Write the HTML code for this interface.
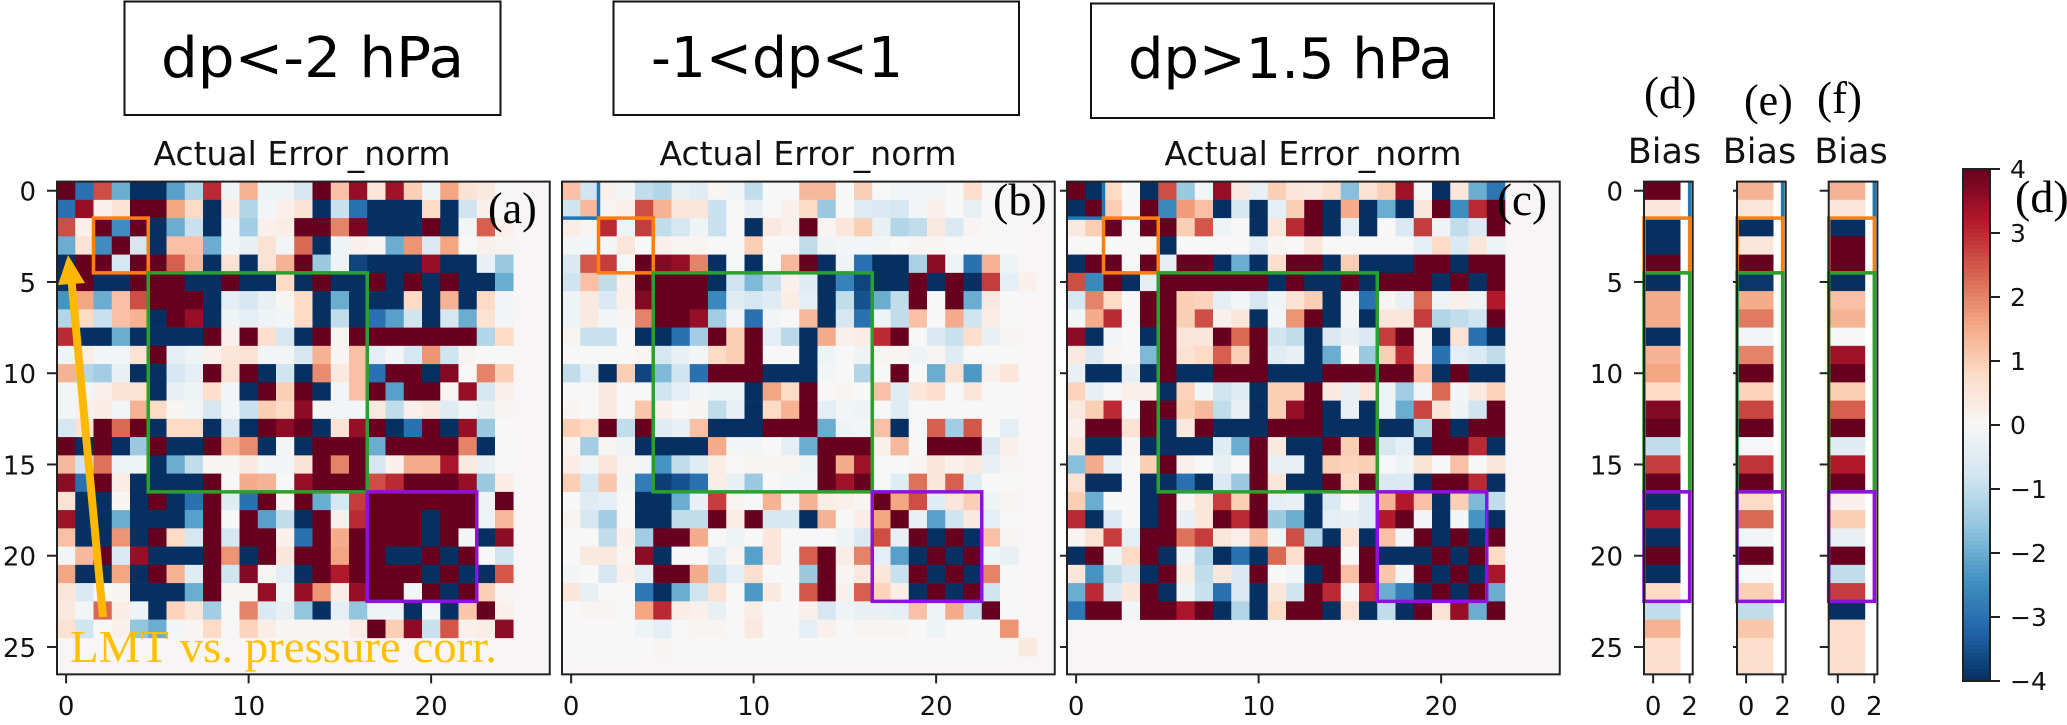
<!DOCTYPE html>
<html lang="en">
<head>
<meta charset="utf-8">
<title>Actual Error_norm heatmaps</title>
<style>
html,body{margin:0;padding:0;background:#fff;width:2067px;height:725px;overflow:hidden}
svg{display:block}
.sans{font-family:"DejaVu Sans","Liberation Sans",sans-serif}
.serif{font-family:"Liberation Serif",serif}
</style>
</head>
<body>
<svg id="chart" xmlns="http://www.w3.org/2000/svg" width="2067" height="725" viewBox="0 0 2067 725">
  <g id="plots"></g>

  <g>
    <rect x="124.5" y="1.5" width="376" height="113.5" fill="#fff" stroke="#111" stroke-width="2"/>
    <text class="sans" x="161" y="77" font-size="56" textLength="303" lengthAdjust="spacingAndGlyphs" fill="#000">dp&lt;-2 hPa</text>
    <rect x="613.5" y="1.5" width="405.5" height="113.5" fill="#fff" stroke="#111" stroke-width="2"/>
    <text class="sans" x="651" y="77" font-size="56" textLength="252" lengthAdjust="spacingAndGlyphs" fill="#000">-1&lt;dp&lt;1</text>
    <rect x="1091" y="3.5" width="403" height="114.5" fill="#fff" stroke="#111" stroke-width="2"/>
    <text class="sans" x="1128" y="78" font-size="56" textLength="325" lengthAdjust="spacingAndGlyphs" fill="#000">dp&gt;1.5 hPa</text>
  </g>

  <g class="sans" fill="#111" text-anchor="middle">
    <text x="302" y="165" font-size="33">Actual Error_norm</text>
    <text x="808" y="165" font-size="33">Actual Error_norm</text>
    <text x="1313" y="165" font-size="33">Actual Error_norm</text>
    <text x="1664.5" y="163" font-size="35">Bias</text>
    <text x="1759.5" y="163" font-size="35">Bias</text>
    <text x="1851" y="163" font-size="35">Bias</text>
  </g>

  <g class="serif" fill="#000">
    <text x="488" y="223" font-size="44">(a)</text>
    <text x="993" y="215" font-size="46">(b)</text>
    <text x="1497" y="215" font-size="45">(c)</text>
    <text x="1644" y="108" font-size="45">(d)</text>
    <text x="1744" y="115" font-size="44">(e)</text>
    <text x="1817" y="113" font-size="45">(f)</text>
    <text x="2015" y="212" font-size="46">(d)</text>
  </g>

  <g>
    <line x1="103" y1="617" x2="71" y2="275" stroke="#ffb800" stroke-width="8"/>
    <polygon points="68,255 85,283 58,285" fill="#ffb800"/>
    <text class="serif" x="70" y="662" font-size="45" textLength="427" lengthAdjust="spacingAndGlyphs" fill="#ffc000">LMT vs. pressure corr.</text>
  </g>
</svg>

<script>
const panelAValues = [
[4,-3,2.6,-2,-4,-4,-2.2,-1.2,3,-.2,1.4,-.2,-.2,-.7,4,1.2,3.5,.5,3.4,1,-.2,1.6,.6,.4,0],
[-3,3.5,.2,.6,4,4,1.6,.8,-4,.3,-1.2,-.1,.2,.6,-4,-.9,-3,-4,-4,-4,.8,-4,-.8,.2,0],
[2.6,.2,4,-2.5,4,-4,-2,-.9,-4,-.1,-1.4,.2,.3,4,4,2,3.8,-4,-4,-4,4,-4,-.1,2.4,.2],
[-2,.6,-2.5,4,-.7,-4,1.2,1.2,-2,-.1,-.3,.6,-.1,2.3,-4,-.2,.2,.1,-2,1.8,-.6,1.6,0,.2,.1],
[-4,4,4,-.7,4,4,2.4,1.3,-4,.6,-4,.6,1.4,4,-1.5,-.2,-3.7,-4,-4,-4,3.5,-4,-4,-.3,-1.5],
[-4,4,-4,-4,4,4,4,-4,-4,4,-4,-4,.8,-4,4,-4,-4,4,-4,4,-4,4,-4,-4,-2],
[-2.4,1.6,-2,1.2,2.6,4,4,4,-4,-.4,-.7,-.3,.1,.8,-4,-2,-4,-4,-4,.8,-4,1.4,-4,.8,-.1],
[-1.2,.8,-.9,1.2,1.4,-4,4,3.5,-4,-.2,-.4,-.2,-.1,.8,-4,-1,-4,-3,-2.2,-.8,-4,-.7,-2,.6,-.1],
[3,-4,-4,-2,-4,-4,-4,-4,4,.2,4,.7,-.7,-4,4,.1,4,4,4,4,4,4,4,-1.2,.8],
[-.2,.3,-.1,-.1,.6,4,-.4,-.2,.2,.5,.6,-.1,-.1,-.7,1.4,.1,1.2,-.4,-.1,-.7,1.8,-.8,.1,0,0],
[1.4,-1.2,-1.4,-.3,-4,-4,-.7,-.4,4,.6,4,-4,-.8,-4,1.9,.4,1.2,-3,4,4,-4,3.7,0,2,1],
[-.1,-.1,.2,.6,.6,-4,-.3,-.2,.7,-.1,-4,4,1,4,-4,-.1,1.2,4,-2.2,4,4,.1,3.5,-.7,.2],
[-.1,.2,.3,-.1,1.4,.8,.1,-.1,-.7,-.1,-.9,1,.8,3.6,-.1,-.1,-.1,.4,-1,.2,.4,-.5,-.1,-.3,.1],
[-.7,.6,4,2.3,4,-4,.8,.8,-4,-.7,-4,4,3.6,4,-4,.6,3.5,4,-4,-3,4,-4,3.5,-1.5,0],
[4,-4,4,-4,-1.5,4,-4,-4,4,1.4,1.9,-4,-.1,-4,4,4,4,-2,4,4,4,4,2,-4,0],
[1.3,-.8,2.2,-.2,-.2,-4,-2,-1,.1,.1,.4,-.1,-.1,.6,4,2,4,-.7,.2,1.5,1.5,3.3,.4,-.3,0],
[3.6,-3,4,.3,-4,-4,-4,-4,4,0,1.5,1.4,0,3.5,4,4,4,2.6,3,4,4,4,3.5,-1.5,.3],
[.6,-4,-4,.1,-4,4,-4,-3,4,-.5,-3,4,.1,4,-2,-.7,2.8,4,4,4,4,4,4,-.2,4],
[3.4,-4,-4,-2,-4,-4,-4,-2.2,4,0,4,-2.2,-1,-4,4,.2,3,4,4,4,-4,4,4,-.2,1.3],
[1.2,-4,-4,1.8,-4,4,.8,-.7,4,-.7,4,4,.2,-3,4,1.5,4,4,4,4,-4,4,-.1,-4,3.6],
[-.1,1.3,4,-.6,3.5,-4,-4,-4,4,1.8,-4,4,.5,4,4,1.6,4,4,-4,-4,4,-4,4,0,-.8],
[1.6,-4,-4,1.6,-4,4,1.4,-.5,4,-.8,3.7,.1,-.4,-4,4,3.2,4,4,4,4,-4,4,-4,-4,2.5],
[.5,-.6,0,.1,-4,-4,-4,-2,4,.1,.1,3.5,-.1,3.5,1.8,.3,3.5,4,4,-.1,4,-4,4,1,.1],
[.4,-.1,2.3,.3,-.2,-4,.9,.5,-1.4,0,2,-.6,-.3,-1.6,-4,-.4,-1.6,-.2,-.2,-4,-.1,-4,1.1,4,.2],
[.6,-.8,0,.2,-1.6,-2,-.1,.1,.8,0,.9,.3,.1,.1,.1,.1,.3,4,1,3.6,-.9,2.5,.2,.3,3.6]
];

const panelBValues = [
[1.2,-.8,.2,-.1,-1,-1.2,-.3,-.5,.1,-.1,-1,0,0,1.3,1.3,0,1,0,-.1,-.1,-.1,0,.7,0,0],
[-.8,1.3,.1,.2,2.6,1.4,.5,.5,-.9,0,-.3,0,.2,.8,-1.5,0,-.5,-.6,-.7,-.1,.2,0,-.3,0,0],
[.3,.1,3,-.2,2.8,-1,-.7,-.2,-.9,0,-4,.4,.2,4,.1,.5,1,-.3,-1.2,-1,.4,-.6,.1,0,0],
[-.1,-.1,-.1,.5,0,.2,.1,.1,0,0,1,0,0,-1,-.2,-.1,-.1,-.1,0,.1,.1,0,0,0,0],
[-.6,2.5,2.8,0,4,3.7,3.5,2,-4,0,-4,0,1.3,4,-4,-.2,-3,-4,-4,-1.3,3.6,-.2,-3,1.4,-.2],
[-.8,1.2,-1,.2,4,4,4,4,-4,-.8,-1.8,-.9,.2,-.5,-4,-2.7,-3.7,-4,-4,4,-4,4,-4,2.8,-.4,.2],
[-.2,.4,-.6,.2,3.7,4,4,4,-2.6,-.5,-.7,-.5,.3,-.4,-4,-1,-3.5,-2,-1,4,0,4,-2,.4,0],
[-.2,.4,-.1,.1,2,4,4,3.5,-1.4,-.1,-3,-.1,0,1.3,-4,-.7,-3,-.2,-1,1.2,0,1.5,-.8,.3,0],
[.1,-.9,-.9,0,-4,-4,-3,-1.4,4,1,4,-.4,-1.1,-4,1.5,.2,.3,3,4,0,-.6,-.9,.7,-.3,.1],
[0,0,0,0,.1,-.7,-.3,-.1,.8,1,4,0,0,-4,-.2,0,-.2,.1,.1,-.2,.1,-.5,0,0,0],
[-1,-.4,-4,1,-3.7,-1.8,-.8,-3,4,4,4,-4,-4,-4,-.1,0,-1.2,0,4,0,-2,.6,-2.3,.2,.5],
[0,0,.4,0,0,-.8,-.4,-.1,-.2,-.2,-4,1.6,.8,4,0,.1,0,1.2,-.5,.5,.7,0,.5,0,0],
[.1,0,.4,0,1.1,.2,0,.1,-1,-.3,-4,.8,1.4,4,-.4,-.1,-.2,0,-.5,0,0,0,0,0,0],
[1,.8,4,-1,4,-.5,-.3,1.2,-4,-4,-4,4,4,4,-2,-.2,-.1,1.2,-4,0,2.4,-1.4,2.5,0,-.4],
[.1,-1.4,.1,-.2,-4,-4,-4,-4,1.5,-.1,-.1,0,-.4,-2,4,4,4,.2,1.3,0,4,4,4,-.6,.2],
[.3,-.1,.5,.1,-.1,-2.4,-1,-.5,.3,0,.1,.1,.1,-.2,4,1.5,3.4,0,0,.1,.5,.2,.4,-.3,.1],
[1,-.7,1.1,-.1,-2.8,-3.8,-3.5,-3,.3,-.3,-1.5,0,-.1,-.1,4,3.4,4,0,-.5,2.2,.5,2.4,-.5,0,0],
[0,-.5,-.4,0,-4,-4,-2,-.3,2.8,.1,0,1.4,.1,1.4,.3,.2,.1,4,1.6,2.6,-.5,.5,1,-.2,.1],
[.1,-.7,-1.4,0,-4,-4,-1,-1,4,.3,4,-.7,-.7,-4,1.4,0,.3,1.6,4,-.3,-2.2,-.8,.4,-.4,0],
[0,0,-1,.2,-1.4,4,4,1.5,0,-.2,0,.5,0,0,0,-.2,-.6,2.6,-.3,4,-4,4,-4,1.2,.1],
[0,.4,.4,.1,3.6,-4,0,0,-.5,.1,-2.2,.5,0,2.4,4,.3,2,-.4,-2.2,-4,4,-4,4,-.2,-.3],
[-.1,0,-.7,.2,-.4,4,4,1.5,-.9,-.4,.7,0,0,-1.5,4,.1,.4,.5,-.9,4,-4,4,-4,2,0],
[.5,-.3,0,0,-2.9,-4,-2,-.8,.6,0,-2.3,.4,0,2.5,4,.2,2.4,.9,.3,-4,4,-4,4,-.8,0],
[0,.1,.1,0,1.6,3,.3,.2,-.3,0,.3,0,0,.2,-.7,-.2,-.3,-.3,-.4,1.2,-.2,1.5,-.9,4,0],
[0,0,0,0,-.2,-.4,0,.1,.1,0,.4,0,0,-.4,.2,0,.1,.1,.1,0,-.2,0,0,0,1.8],
[0,0,0,0,0,.1,0,0,0,0,0,0,0,0,0,0,0,0,0,0,0,0,0,0,0,.4]
];

const panelCValues = [
[4,-4,.8,0,-4,2.6,-1.5,-.1,3.5,.4,-.3,1,.5,.4,.7,-1.7,.6,1,3.4,0,-4,.5,-2,-2.9],
[-4,4,1,0,4,-2.6,1.7,1.2,-4,-.7,-4,-.4,1,4,-4,1.5,-4,-2,-4,.5,4,-2.5,3,4],
[.4,1,4,0,4,4,1,2.5,-.2,0,-4,.5,3,4,-4,-.4,-4,0,-.6,2.8,-.2,-1,-.6,4],
[0,0,0,0,0,-4,0,0,0,0,-.4,.1,0,.5,0,0,0,0,0,-.4,.8,-.6,.5,-.2],
[-4,4,4,0,4,-.4,4,4,-4,-2,-4,.7,4,4,-4,1,-4,-4,-4,4,4,-4,4,4],
[2.6,-2.6,4,-4,-.4,4,4,4,4,4,4,-4,4,-4,-4,4,-4,4,4,4,-4,4,-4,4],
[-.7,2,.8,0,4,4,1,.9,-.4,-.1,-.7,-.2,.6,1,-4,-.1,-3,.1,-.3,2.3,-.2,.2,-.2,3.2],
[-.1,1.5,3,0,4,4,1,2.6,.2,.5,-4,-.1,1.8,4,-4,-.1,-4,.5,.5,2.8,-1.2,-1,-.8,4],
[3.6,-4,-.1,0,-4,4,.5,.5,4,2.3,4,-.8,-1,-4,-.6,-.3,-.6,2.8,4,.1,-4,.6,-3,-4],
[.4,-.6,.1,0,-1.8,4,.6,.8,2.4,1,4,-.5,-.3,-4,-2,0,-1.5,1,3,.1,-3,-.4,-.6,-1],
[-.3,-4,-4,-.3,-4,4,-4,-4,4,4,4,-4,-4,-4,4,4,4,4,4,1.2,-4,4,-4,-4],
[.9,-.3,0,.2,.2,-4,.9,-.1,-.8,-.5,-4,1,1,4,.4,-.3,.5,-.2,-1.4,-.1,2.3,-.1,.4,.9],
[.4,1,3,0,4,4,1,1.3,-1,-.3,-4,1,3.5,4,-4,-.3,-4,-.2,-2,2.7,.6,-.2,-.8,4],
[.2,4,4,.6,4,-4,.4,4,-4,-4,-4,4,4,4,-4,-4,-4,-4,-4,-1.2,4,-4,4,4],
[.5,-4,-4,.1,-4,-4,-4,-4,-.5,-2,4,.4,-4,-4,4,1,4,-.7,-.4,-4,4,4,3,-4],
[-1.7,1.5,-.3,0,1,4,.2,0,-.3,0,4,-.3,-.3,-4,1,.9,1,0,-.2,.6,0,1.2,0,.5],
[.6,-4,-4,0,-4,-4,-3,-4,-.6,-1.5,4,.5,-4,-4,4,.8,4,-.6,-.6,-4,4,4,3,-4],
[1,-2,0,0,-4,4,.1,.5,2.8,1,4,-.4,-.3,-4,-.6,0,-.5,1.4,3.2,1.2,-4,1,-1.8,-1],
[3,-4,-.6,0,-4,4,-.3,.5,4,3,4,-1.5,-2,-4,-.4,-.3,-.5,3.2,4,-.1,-4,-.1,-2.4,-4],
[.1,.6,2.8,-.4,4,4,2.2,2.8,.5,.2,1.3,-.1,2.6,-1.2,-4,.6,-4,1.2,-.1,4,-4,4,-4,4],
[-4,4,-.2,.8,4,-4,-.2,-1.2,-4,-3,-4,2.3,.7,4,4,0,4,-4,-4,-4,4,-4,4,.8],
[.5,-2.4,-1,-.6,-4,4,.3,-1,.5,-.6,4,0,-.1,-4,4,1.2,4,1.1,-.1,4,-4,4,-4,3.3],
[-2,3,-.6,.5,4,-4,-.2,-.9,-3,-.6,-4,.5,-.8,4,3,0,3,-2,-2.8,-4,4,-4,4,-2],
[-2.9,4,4,-.1,4,4,3.3,4,-4,-1.2,-4,.8,4,4,-4,.6,-4,-1,-4,4,.6,3.5,-2,4]
];

const biasDValues = [4,.5,-4,-4,4,-4,1.5,1.5,-4,1.4,1.6,.8,3.7,4,-1,2.8,4,-4,3.3,-4,4,-4,.8,-1,1.4,.7,.7];
const biasEValues = [1.4,.5,-4,.5,4,-3.9,1.5,2.1,-.1,2,4,.9,2.7,4,-.05,2.9,4,.8,2.3,-.1,4,0,1,-1,1.1,.7,.7];
const biasFValues = [1.4,.5,-4,4,4,-4,1.2,1.4,0,3.4,4,1,2.4,4,-.5,3.2,4,.2,1,-.3,4,-1,2.8,-4,.7,.7,.7];

const xTickValues = [0,10,20];
const yTickValues = [0,5,10,15,20,25];
const biasXTickValues = [0,2];
const colorbarTickValues = [4,3,2,1,0,-1,-2,-3,-4];
const regionOrange = [1.5,4.5];
const regionGreen = [4.5,16.5];
const regionPurple = [16.5,22.5];
const regionBlue = [-0.5,1.5];

const rdbuStops = ['#053061','#2166ac','#4393c3','#92c5de','#d1e5f0','#f7f7f7','#fddbc7','#f4a582','#d6604d','#b2182b','#67001f'];
const SVGNS = 'http://www.w3.org/2000/svg';
const CELL = 18.25;
const TOP = 181.6;
const yScale = function (i) { return TOP + (i + 0.5) * CELL; };

function hexToRgb(h) {
  return [parseInt(h.slice(1, 3), 16), parseInt(h.slice(3, 5), 16), parseInt(h.slice(5, 7), 16)];
}
function colorFor(v) {
  const t = Math.max(0, Math.min(1, (v + 4) / 8)) * (rdbuStops.length - 1);
  const i = Math.min(rdbuStops.length - 2, Math.floor(t));
  const a = hexToRgb(rdbuStops[i]);
  const b = hexToRgb(rdbuStops[i + 1]);
  const f = t - i;
  return 'rgb(' + [0, 1, 2].map(function (k) { return Math.round(a[k] + (b[k] - a[k]) * f); }).join(',') + ')';
}
function make(tag, attrs, parent) {
  const el = document.createElementNS(SVGNS, tag);
  Object.keys(attrs).forEach(function (k) { el.setAttribute(k, attrs[k]); });
  parent.appendChild(el);
  return el;
}
function addTick(parent, x1, y1, x2, y2, w) {
  const el = make('line', { x1: x1, y1: y1, x2: x2, y2: y2, stroke: '#222', 'stroke-width': w }, parent);
  
  
}
function addLabel(parent, x, y, text, anchor, size) {
  const el = make('text', { x: x, y: y, 'text-anchor': anchor, 'font-size': size, fill: '#111', class: 'sans' }, parent);
  
  
  el.textContent = text;
}
function addRegion(parent, x0, x1, y0, y1, color, name) {
  const el = make('rect', { x: x0, y: y0, width: x1 - x0, height: y1 - y0, fill: 'none', stroke: color, 'stroke-width': 3.5 }, parent);
  
  
}
function addFrame(parent, x, y, w, h) {
  const el = make('rect', { x: x, y: y, width: w, height: h, fill: 'none', stroke: '#222', 'stroke-width': 2 }, parent);
  
  
}

function drawHeatmap(values, left, opts) {
  const root = document.getElementById('plots');
  const g = make('g', {}, root);
  
  
  const xScale = function (i) { return left + (i + 0.5) * CELL; };
  const bg = make('rect', { x: left, y: TOP, width: 27 * CELL, height: 27 * CELL, fill: '#f7f5f6' }, g);
  
  
  values.forEach(function (row, r) {
    row.forEach(function (v, c) {
      const cell = make('rect', { x: xScale(c) - CELL / 2, y: yScale(r) - CELL / 2, width: CELL + 0.3, height: CELL + 0.3, fill: colorFor(v) }, g);
      
      
    });
  });
  if (opts.blue) {
    const bx = xScale(regionBlue[1]);
    const by = yScale(regionBlue[1]);
    const bl = make('path', { d: 'M' + bx + ' ' + TOP + 'V' + by + 'H' + left, fill: 'none', stroke: '#1f77b4', 'stroke-width': 3.5 }, g);
    
    
  }
  addRegion(g, xScale(regionOrange[0]), xScale(regionOrange[1]), yScale(regionOrange[0]), yScale(regionOrange[1]), '#ff7f0e', 'region-box-orange');
  addRegion(g, xScale(regionGreen[0]), xScale(regionGreen[1]), yScale(regionGreen[0]), yScale(regionGreen[1]), '#2ca02c', 'region-box-green');
  addRegion(g, xScale(regionPurple[0]), xScale(regionPurple[1]), yScale(regionPurple[0]), yScale(regionPurple[1]), '#9010e0', 'region-box-purple');
  addFrame(g, left, TOP, 27 * CELL, 27 * CELL);
  xTickValues.forEach(function (t) {
    addTick(g, xScale(t), TOP + 27 * CELL, xScale(t), TOP + 27 * CELL + 9, 2);
    addLabel(g, xScale(t), 715, String(t), 'middle', 26);
  });
  if (opts.yTickLen) {
    yTickValues.forEach(function (t) {
      addTick(g, left - opts.yTickLen, yScale(t), left, yScale(t), 2);
      if (opts.yLabels) {
        addLabel(g, left - opts.yTickLen - 11, yScale(t) + 10, String(t), 'end', 26);
      }
    });
  }
}

function drawBias(values, left, opts) {
  const root = document.getElementById('plots');
  const g = make('g', {}, root);
  
  
  const xScale = function (i) { return left + (i + 0.5) * CELL; };
  const panelW = 48.7;
  values.forEach(function (v, r) {
    const cell = make('rect', { x: xScale(-0.5), y: yScale(r) - CELL / 2, width: 2 * CELL, height: CELL + 0.3, fill: colorFor(v) }, g);
    
    
  });
  const right = xScale(2);
  const bl = make('line', { x1: right, y1: TOP, x2: right, y2: yScale(regionBlue[1]), stroke: '#1f77b4', 'stroke-width': 3.5 }, g);
  
  
  addRegion(g, left, right, yScale(regionOrange[0]), yScale(regionOrange[1]), '#ff7f0e', 'region-box-orange');
  addRegion(g, left, right, yScale(regionGreen[0]), yScale(regionGreen[1]), '#2ca02c', 'region-box-green');
  addRegion(g, left, right, yScale(regionPurple[0]), yScale(regionPurple[1]), '#9010e0', 'region-box-purple');
  addFrame(g, left, TOP, panelW, 27 * CELL);
  biasXTickValues.forEach(function (t) {
    addTick(g, xScale(t), TOP + 27 * CELL, xScale(t), TOP + 27 * CELL + 9, 2);
    addLabel(g, xScale(t), 715, String(t), 'middle', 26);
  });
  yTickValues.forEach(function (t) {
    addTick(g, left - opts.yTickLen, yScale(t), left, yScale(t), 2);
    if (opts.yLabels) {
      addLabel(g, left - 21, yScale(t) + 10, String(t), 'end', 26);
    }
  });
}

function drawColorbar() {
  const root = document.getElementById('plots');
  const g = make('g', {}, root);
  
  
  const cbY = function (v) { return 169 + (4 - v) * 64; };
  const left = 1963, width = 27, steps = 128;
  for (let i = 0; i < steps; i++) {
    const v0 = 4 - 8 * i / steps;
    const v1 = 4 - 8 * (i + 1) / steps;
    const seg = make('rect', { x: left, y: cbY(v0), width: width, height: cbY(v1) - cbY(v0) + 0.5, fill: colorFor((v0 + v1) / 2) }, g);
    
    
  }
  addFrame(g, left, cbY(4), width, cbY(-4) - cbY(4));
  colorbarTickValues.forEach(function (t) {
    addTick(g, left + width, cbY(t), left + width + 10, cbY(t), 2);
    addLabel(g, 2010, cbY(t) + 9, t < 0 ? '\u2212' + Math.abs(t) : String(t), 'start', 25);
  });
}

drawHeatmap(panelAValues, 57, { name: 'heatmap-panel-a', yTickLen: 10, yLabels: true, blue: false });
drawHeatmap(panelBValues, 562, { name: 'heatmap-panel-b', yTickLen: 0, yLabels: false, blue: true });
drawHeatmap(panelCValues, 1067, { name: 'heatmap-panel-c', yTickLen: 7, yLabels: false, blue: true });
drawBias(biasDValues, 1644, { name: 'bias-panel-d', yTickLen: 10, yLabels: true });
drawBias(biasEValues, 1737, { name: 'bias-panel-e', yTickLen: 4, yLabels: false });
drawBias(biasFValues, 1828.7, { name: 'bias-panel-f', yTickLen: 9, yLabels: false });
drawColorbar();
</script>
</body>
</html>
